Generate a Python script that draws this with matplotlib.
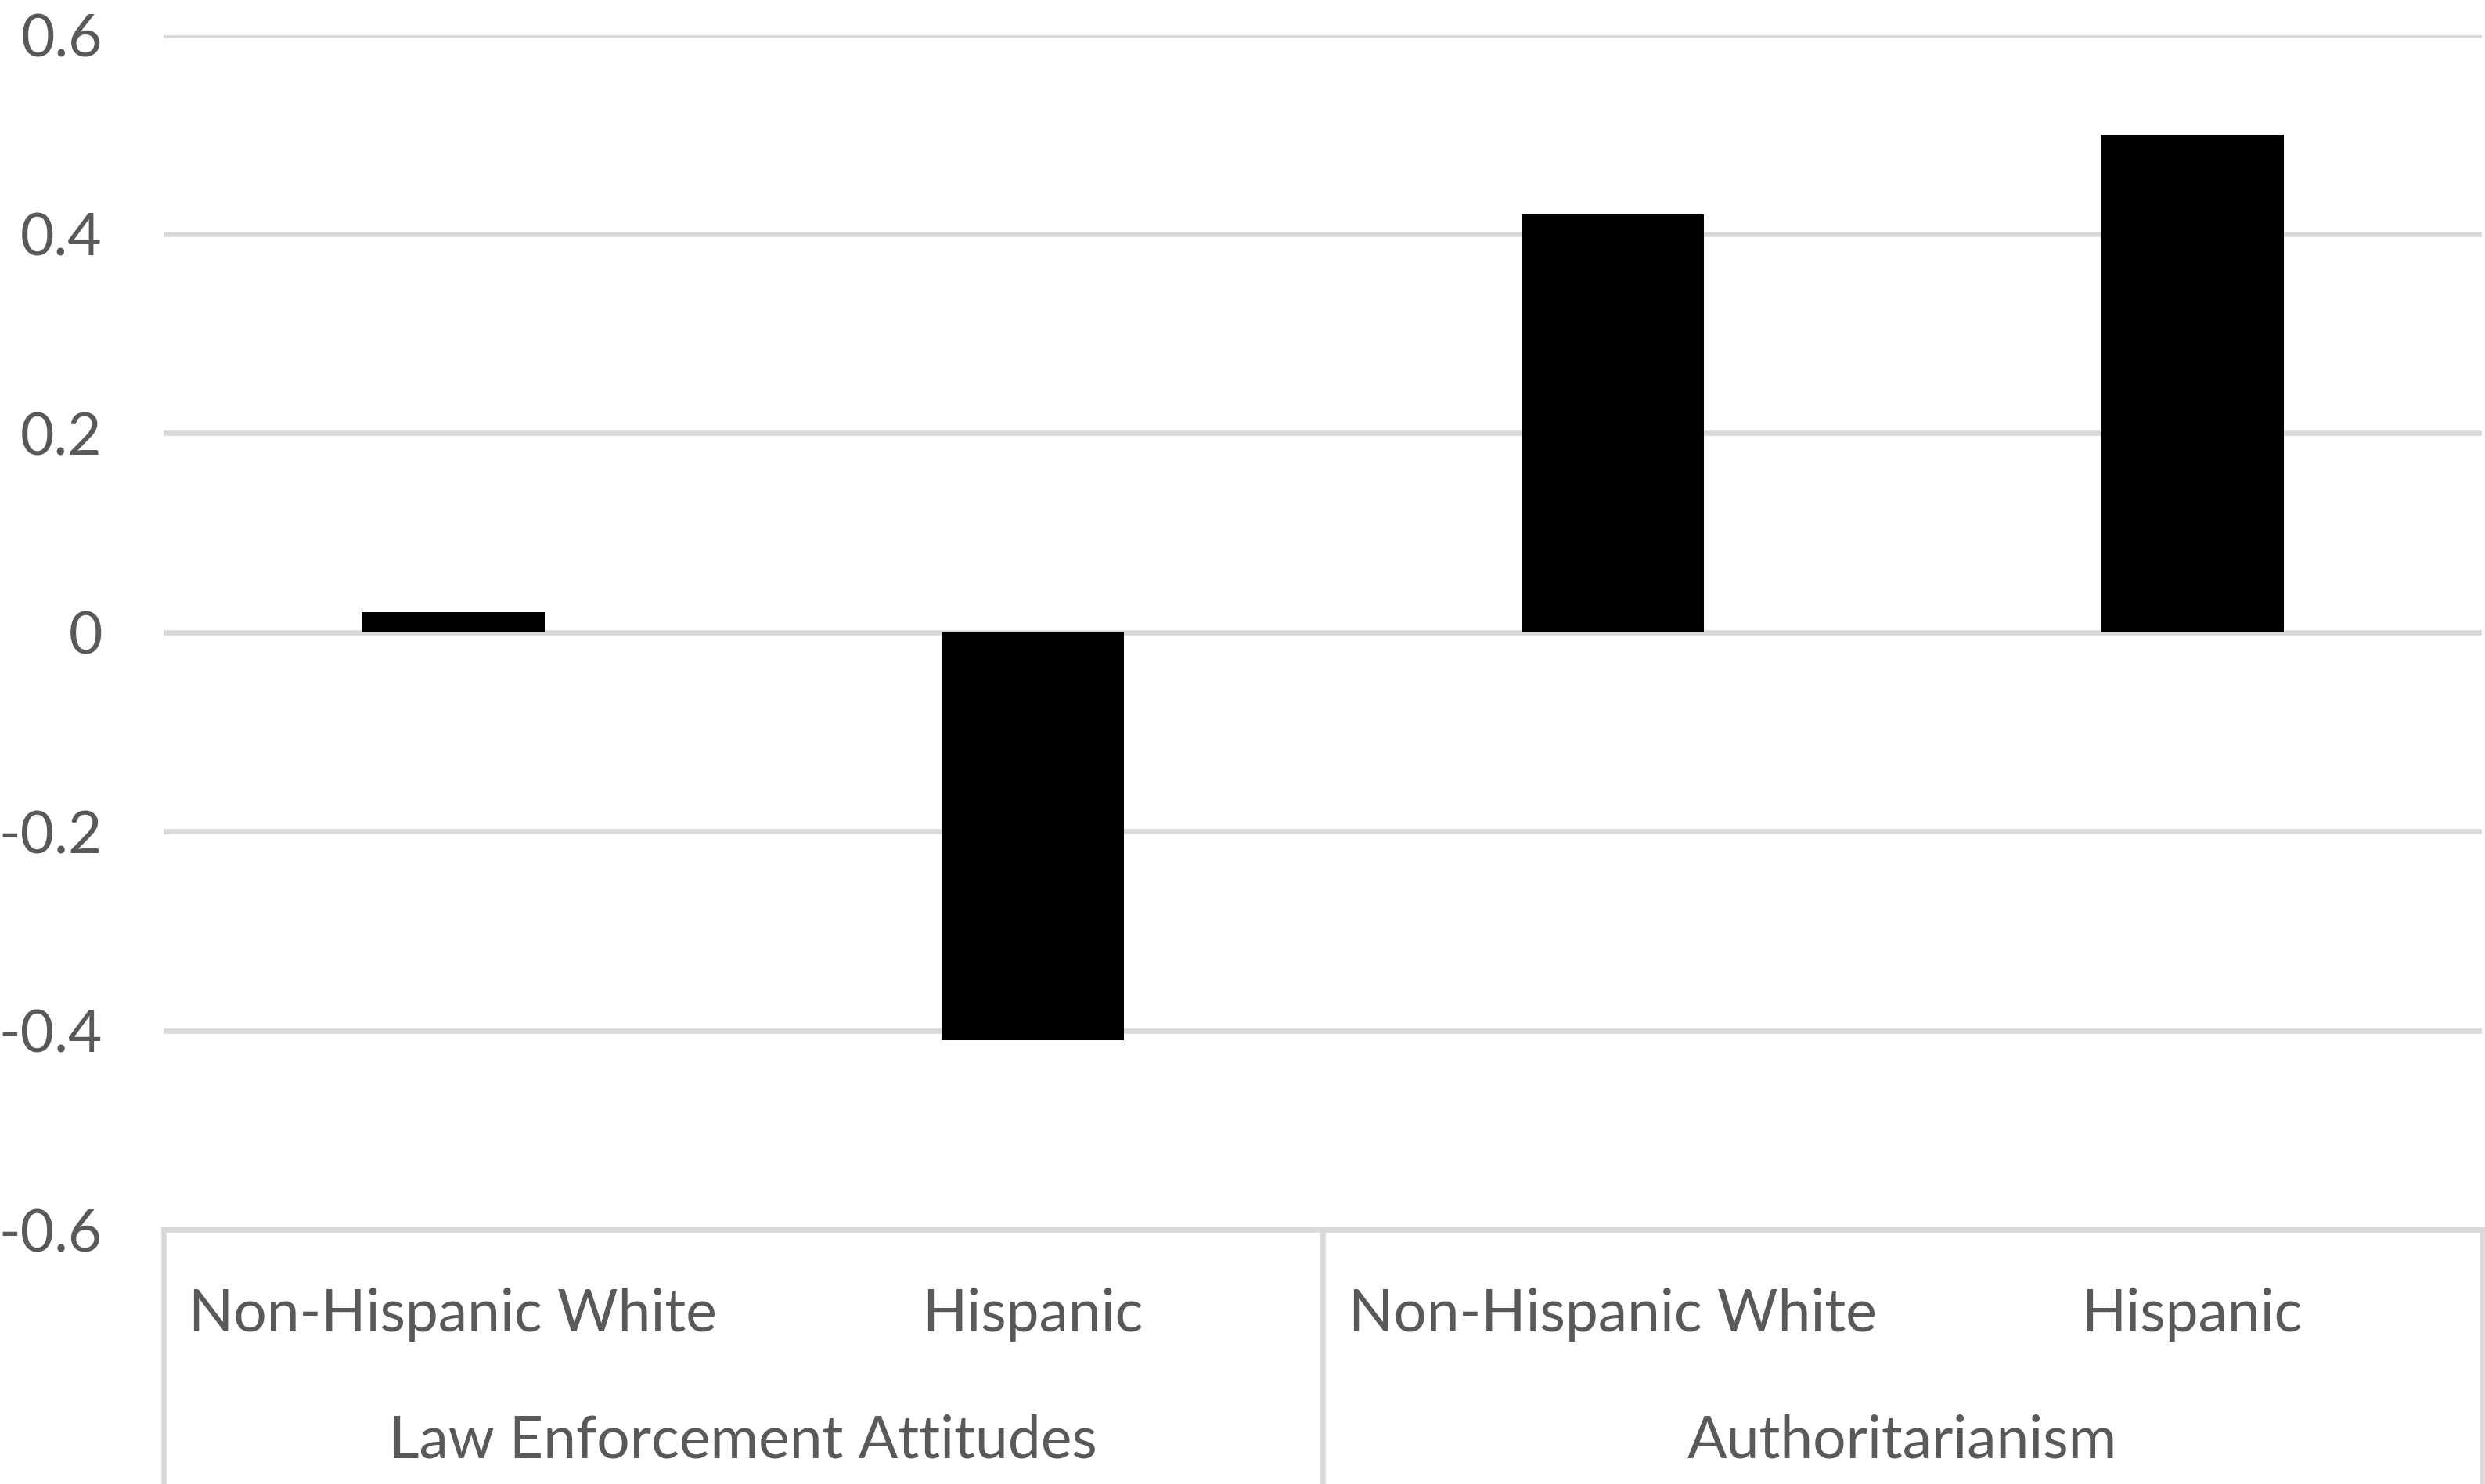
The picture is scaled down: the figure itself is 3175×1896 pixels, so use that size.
import matplotlib
matplotlib.use("Agg")
import matplotlib.pyplot as plt
from matplotlib.transforms import blended_transform_factory

groups = ["Law Enforcement Attitudes", "Authoritarianism"]
subgroups = ["Non-Hispanic White", "Hispanic", "Non-Hispanic White", "Hispanic"]
values = [0.02, -0.41, 0.42, 0.50]
yticks = [-0.6, -0.4, -0.2, 0, 0.2, 0.4, 0.6]
ytick_labels = ["-0.6", "-0.4", "-0.2", "0", "0.2", "0.4", "0.6"]

TEXT = "#595959"
GRID = "#D9D9D9"

plt.rcParams["font.family"] = ["Lato", "DejaVu Sans"]

fig = plt.figure(figsize=(15.875, 9.48), dpi=200)
ax = fig.add_axes([0.0657, 0.1714, 0.9331, 0.8051])

xs = list(range(len(values)))
ax.bar(xs, values, width=0.315, color="black", zorder=3)

ax.set_xlim(-0.5, len(values) - 0.5)
ax.set_ylim(-0.6, 0.6)
ax.set_yticks(yticks)
ax.set_yticklabels(ytick_labels)
ax.tick_params(axis="y", length=0, pad=28, labelsize=27, labelcolor=TEXT)
ax.set_xticks([])
ax.grid(axis="y", color=GRID, linewidth=2.4, zorder=0)
for s in ["top", "right", "left"]:
    ax.spines[s].set_visible(False)
ax.spines["bottom"].set_color(GRID)
ax.spines["bottom"].set_linewidth(2.4)

# category table below the axis
trans = blended_transform_factory(ax.transData, fig.transFigure)
for xb in [-0.5, 1.5, 3.5]:
    ax.plot([xb, xb], [0.1714, 0.0], transform=trans, color=GRID,
            linewidth=2.4, clip_on=False)
for x, lab in zip(xs, subgroups):
    fig.text(x, 0.1144, lab, transform=trans, ha="center", va="center",
             fontsize=27, color=TEXT)
for i, g in enumerate(groups):
    fig.text(2 * i + 0.5, 0.029, g, transform=trans, ha="center", va="center",
             fontsize=27, color=TEXT)

fig.savefig("out.png", dpi=200)
